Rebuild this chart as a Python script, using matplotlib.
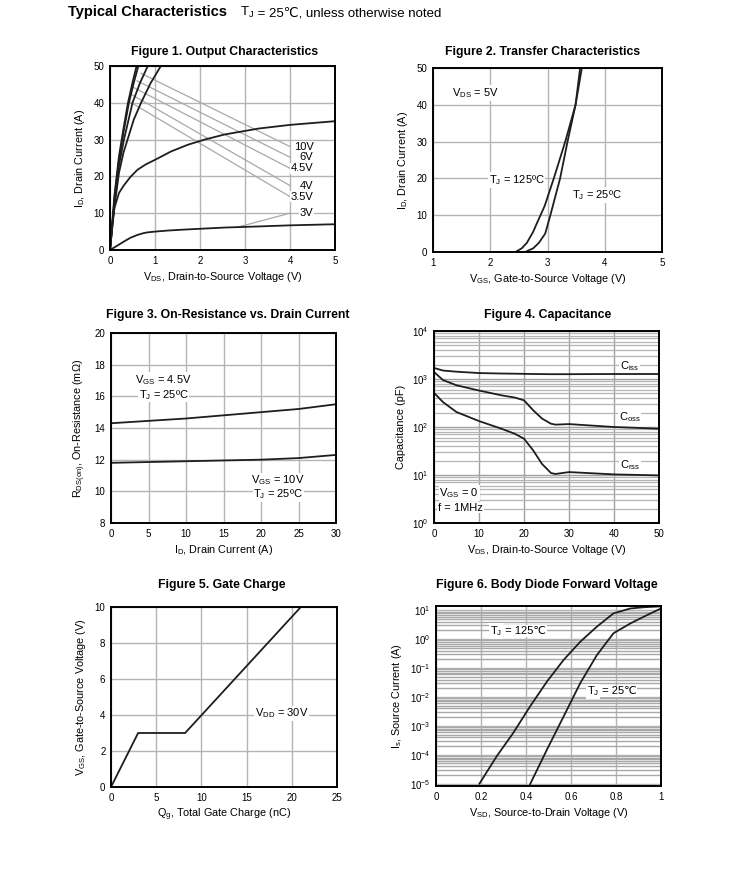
import numpy as np
import matplotlib
matplotlib.use("Agg")
import matplotlib.pyplot as plt

plt.rcParams['font.family'] = ['Liberation Sans', 'DejaVu Sans']
plt.rcParams['mathtext.fontset'] = 'custom'
plt.rcParams['mathtext.rm'] = 'Liberation Sans'
plt.rcParams['mathtext.it'] = 'Liberation Sans:italic'
plt.rcParams['mathtext.bf'] = 'Liberation Sans:bold'

# ---- Figure 1: output characteristics ----
vds_3v = [0, 0.15, 0.31, 0.45, 0.61, 0.75, 0.84, 1.0, 1.3, 1.73, 2.55, 3.3, 4, 5]
id_3v = [0, 1.1, 2.3, 3.3, 4.1, 4.6, 4.8, 5.0, 5.3, 5.6, 6.1, 6.4, 6.7, 7.0]
vds_35v = [0, 0.05, 0.1, 0.2, 0.31, 0.45, 0.61, 0.8, 1.0, 1.36, 1.73, 2.1, 2.55, 3.3, 4, 5]
id_35v = [0, 7, 11.5, 15.5, 17.6, 19.8, 21.8, 23.3, 24.5, 26.8, 28.6, 30, 31.4, 33, 34, 35]
vds_4v = [0, 0.1, 0.2, 0.3, 0.39, 0.53, 0.69, 0.9, 1.13]
id_4v = [0, 12, 21, 26.5, 30, 35.5, 40, 45.3, 50]
vds_45v = [0, 0.1, 0.2, 0.31, 0.5, 0.67, 0.84]
id_45v = [0, 13, 23, 30, 40, 45.5, 50]
vds_6v = [0, 0.1, 0.2, 0.3, 0.42, 0.53, 0.63]
id_6v = [0, 14, 24.5, 32, 40, 45.5, 50]
vds_10v = [0, 0.1, 0.2, 0.3, 0.4, 0.5, 0.59]
id_10v = [0, 15, 25.5, 33, 40, 45.5, 50]
vgs_labels = ["10V", "6V", "4.5V", "4V", "3.5V", "3V"]
label_y = [28.1, 25.2, 22.2, 17.5, 14.5, 10.0]
leader_start = [(0.69, 48.0), (0.6, 46.0), (0.52, 44.2), (0.47, 42.3), (0.42, 40.4), (2.8, 6.1)]

# ---- Figure 2: transfer ----
vgs_125 = [2.44, 2.55, 2.64, 2.75, 2.82, 2.95, 3.11, 3.31, 3.49, 3.57]
id_125 = [0, 1, 2.5, 5.5, 8, 12.5, 20, 30, 40, 50]
vgs_25 = [2.61, 2.75, 2.85, 2.96, 3.05, 3.22, 3.35, 3.49, 3.6]
id_25 = [0, 1, 2.5, 5, 10, 20, 30, 40, 50]

# ---- Figure 3: on-resistance ----
id_r = [0, 5, 10, 15, 20, 25, 30]
rds_45 = [14.3, 14.45, 14.6, 14.8, 15.0, 15.2, 15.5]
rds_10 = [11.8, 11.85, 11.9, 11.95, 12.0, 12.1, 12.3]

# ---- Figure 4: capacitance ----
vds_c = [0, 2, 5, 10, 15, 18, 20, 22, 24, 26, 27, 30, 40, 50]
ciss = [1700, 1500, 1420, 1330, 1300, 1290, 1280, 1270, 1265, 1260, 1260, 1260, 1270, 1270]
coss = [1400, 950, 740, 575, 457, 410, 360, 225, 150, 117, 112, 115, 100, 92]
crss = [515, 330, 205, 133, 92, 72, 57, 33, 17, 11, 10.5, 11.5, 10.3, 9.8]

# ---- Figure 5: gate charge ----
qg = [0, 3, 8.2, 21]
vgs_q = [0, 3, 3, 10]

# ---- Figure 6: body diode ----
vsd_125 = [0.193, 0.27, 0.344, 0.418, 0.493, 0.567, 0.641, 0.715, 0.789, 0.864, 0.93, 1.0]
is_125 = [1e-5, 8.9e-5, 5.8e-4, 4.7e-3, 3.4e-2, 0.19, 0.81, 2.7, 7.8, 11.5, 12.8, 13.6]
vsd_25 = [0.418, 0.493, 0.567, 0.641, 0.715, 0.789, 0.864, 0.938, 1.0]
is_25 = [9.5e-6, 1.5e-4, 2.1e-3, 3.0e-2, 0.28, 1.6, 3.5, 6.8, 11.5]

W, H = 731, 869
fig = plt.figure(figsize=(W / 100, H / 100), dpi=100)

LC = '#1e1e1e'
GC = '#b4b4b4'
TS = 7
LS = 7.8
NS = 8
BOX = dict(facecolor='white', edgecolor='none', pad=0.6)


def make_ax(l, r, t, b):
    ax = fig.add_axes([l / W, (H - b) / H, (r - l) / W, (b - t) / H])
    for s in ax.spines.values():
        s.set_linewidth(1.4)
        s.set_color('black')
    ax.tick_params(length=0, labelsize=TS, pad=4)
    return ax


def title(cx, cy, txt):
    fig.text(cx / W, 1 - cy / H, txt, fontsize=8.8, fontweight='bold', ha='center', va='center')


def tj_celsius(ax, x, y, rest, size, coords='data', box=True):
    # "T_J" as mathtext, the rest as plain text so the ℃ glyph can fall back to DejaVu
    kw = dict(fontsize=size, va='baseline')
    if box:
        kw['bbox'] = BOX
    if coords == 'data':
        t1 = ax.text(x, y, "T$_\\mathregular{J}$", **kw)
    else:
        t1 = ax.text(x, y, "T$_\\mathregular{J}$", transform=fig.transFigure, **kw)
    ycoord = 'data' if coords == 'data' else 'figure fraction'
    ax.annotate(rest, xy=(1, y), xycoords=(t1, ycoord), annotation_clip=False, **kw)


# Figure 1
ax = make_ax(110, 335, 66, 250)
ax.set_xlim(0, 5)
ax.set_ylim(0, 50)
ax.set_xticks(range(6))
ax.set_yticks(range(0, 51, 10))
ax.grid(True, color=GC, lw=1)
for (x0, y0), ly in zip(leader_start, label_y):
    ax.plot([x0, 4.0], [y0, ly], color='#a8a8a8', lw=0.9)
for xs, ys in [(vds_3v, id_3v), (vds_35v, id_35v), (vds_4v, id_4v), (vds_45v, id_45v), (vds_6v, id_6v), (vds_10v, id_10v)]:
    ax.plot(xs, ys, color=LC, lw=1.3)
for lab, ly in zip(vgs_labels, label_y):
    ax.text(4.52, ly, lab, fontsize=NS, ha='right', va='center', bbox=BOX)
title(225, 52, "Figure 1. Output Characteristics")
ax.set_xlabel("V$_\\mathregular{DS}$, Drain-to-Source Voltage (V)", fontsize=LS, labelpad=3)
ax.set_ylabel("I$_\\mathregular{D}$, Drain Current (A)", fontsize=LS, labelpad=5)

# header line, hung on the first axes
fig.text(68 / W, 1 - 16 / H, "Typical Characteristics", fontsize=10.5, fontweight='bold', va='baseline')
tj_celsius(ax, 240 / W, 1 - 16 / H, " = 25\u2103, unless otherwise noted", 9.5, coords='fig', box=False)

# Figure 2
ax = make_ax(433, 662, 68, 252)
ax.set_xlim(1, 5)
ax.set_ylim(0, 50)
ax.set_xticks(range(1, 6))
ax.set_yticks(range(0, 51, 10))
ax.grid(True, color=GC, lw=1)
ax.plot(vgs_125, id_125, color=LC, lw=1.3)
ax.plot(vgs_25, id_25, color=LC, lw=1.3)
ax.text(1.33, 43.2, "V$_\\mathregular{DS}$ = 5V", fontsize=NS, va='center', bbox=BOX)
ax.text(1.97, 19.6, "T$_\\mathregular{J}$ = 125\u00baC", fontsize=NS, va='center', bbox=BOX)
ax.text(3.43, 15.5, "T$_\\mathregular{J}$ = 25\u00baC", fontsize=NS, va='center', bbox=BOX)
title(543, 52, "Figure 2. Transfer Characteristics")
ax.set_xlabel("V$_\\mathregular{GS}$, Gate-to-Source Voltage (V)", fontsize=LS, labelpad=3)
ax.set_ylabel("I$_\\mathregular{D}$, Drain Current (A)", fontsize=LS, labelpad=5)

# Figure 3
ax = make_ax(111, 336, 333, 523)
ax.set_xlim(0, 30)
ax.set_ylim(8, 20)
ax.set_xticks(range(0, 31, 5))
ax.set_yticks(range(8, 21, 2))
ax.grid(True, color=GC, lw=1)
ax.plot(id_r, rds_45, color=LC, lw=1.3)
ax.plot(id_r, rds_10, color=LC, lw=1.3)
ax.text(7.0, 17.05, "V$_\\mathregular{GS}$ = 4.5V", fontsize=NS, ha='center', va='center', bbox=BOX)
ax.text(7.0, 16.1, "T$_\\mathregular{J}$ = 25\u00baC", fontsize=NS, ha='center', va='center', bbox=BOX)
ax.text(22.3, 10.7, "V$_\\mathregular{GS}$ = 10V", fontsize=NS, ha='center', va='center', bbox=BOX)
ax.text(22.3, 9.8, "T$_\\mathregular{J}$ = 25\u00baC", fontsize=NS, ha='center', va='center', bbox=BOX)
title(228, 315, "Figure 3. On-Resistance vs. Drain Current")
ax.set_xlabel("I$_\\mathregular{D}$, Drain Current (A)", fontsize=LS, labelpad=3)
ax.set_ylabel("R$_\\mathregular{DS(on)}$, On-Resistance (m\u03a9)", fontsize=LS, labelpad=5)

# Figure 4
ax = make_ax(434, 659, 331, 523)
ax.set_yscale('log')
ax.set_xlim(0, 50)
ax.set_ylim(1, 1e4)
ax.set_xticks(range(0, 51, 10))
ax.set_yticks([1, 10, 100, 1000, 10000])
ax.tick_params(which='minor', length=0)
ax.grid(True, which='major', color='#a0a0a0', lw=1)
ax.grid(True, which='minor', axis='y', color=GC, lw=0.9)
ax.plot(vds_c, ciss, color=LC, lw=1.3)
ax.plot(vds_c, coss, color=LC, lw=1.3)
ax.plot(vds_c, crss, color=LC, lw=1.3)
ax.text(43.5, 1900, "C$_\\mathregular{iss}$", fontsize=NS, ha='center', va='center', bbox=BOX)
ax.text(43.5, 162, "C$_\\mathregular{oss}$", fontsize=NS, ha='center', va='center', bbox=BOX)
ax.text(43.5, 16, "C$_\\mathregular{rss}$", fontsize=NS, ha='center', va='center', bbox=BOX)
ax.text(1.2, 4.2, "V$_\\mathregular{GS}$ = 0", fontsize=NS, va='center', bbox=BOX)
ax.text(0.9, 2.1, "f = 1MHz", fontsize=NS, va='center', bbox=BOX)
title(548, 315, "Figure 4. Capacitance")
ax.set_xlabel("V$_\\mathregular{DS}$, Drain-to-Source Voltage (V)", fontsize=LS, labelpad=3)
ax.set_ylabel("Capacitance (pF)", fontsize=LS, labelpad=4)

# Figure 5
ax = make_ax(111, 337, 607, 787)
ax.set_xlim(0, 25)
ax.set_ylim(0, 10)
ax.set_xticks(range(0, 26, 5))
ax.set_yticks(range(0, 11, 2))
ax.grid(True, color=GC, lw=1)
ax.plot(qg, vgs_q, color=LC, lw=1.3)
ax.text(15.9, 4.1, "V$_\\mathregular{DD}$ = 30V", fontsize=NS, va='center', bbox=BOX)
title(222, 585, "Figure 5. Gate Charge")
ax.set_xlabel("Q$_\\mathregular{g}$, Total Gate Charge (nC)", fontsize=LS, labelpad=3)
ax.set_ylabel("V$_\\mathregular{GS}$, Gate-to-Source Voltage (V)", fontsize=LS, labelpad=5)

# Figure 6
ax = make_ax(436, 661, 606, 786)
ax.set_yscale('log')
ax.set_xlim(0, 1)
ax.set_ylim(8.3e-6, 14)
ax.set_xticks([0, 0.2, 0.4, 0.6, 0.8, 1])
ax.set_xticklabels(["0", "0.2", "0.4", "0.6", "0.8", "1"])
ax.set_yticks([1e-5, 1e-4, 1e-3, 1e-2, 1e-1, 1, 10])
ax.tick_params(which='minor', length=0)
ax.grid(True, which='major', color=GC, lw=1)
ax.grid(True, which='minor', axis='y', color='#a8a8a8', lw=1.0)
ax.plot(vsd_125, is_125, color=LC, lw=1.3)
ax.plot(vsd_25, is_25, color=LC, lw=1.3)
tj_celsius(ax, 0.24, 1.5, " = 125\u2103", NS)
tj_celsius(ax, 0.67, 0.0122, " = 25\u2103", NS)
title(547, 585, "Figure 6. Body Diode Forward Voltage")
ax.set_xlabel("V$_\\mathregular{SD}$, Source-to-Drain Voltage (V)", fontsize=LS, labelpad=3)
ax.set_ylabel("I$_\\mathregular{s}$, Source Current (A)", fontsize=LS, labelpad=4)

fig.savefig("out.png", dpi=100)
